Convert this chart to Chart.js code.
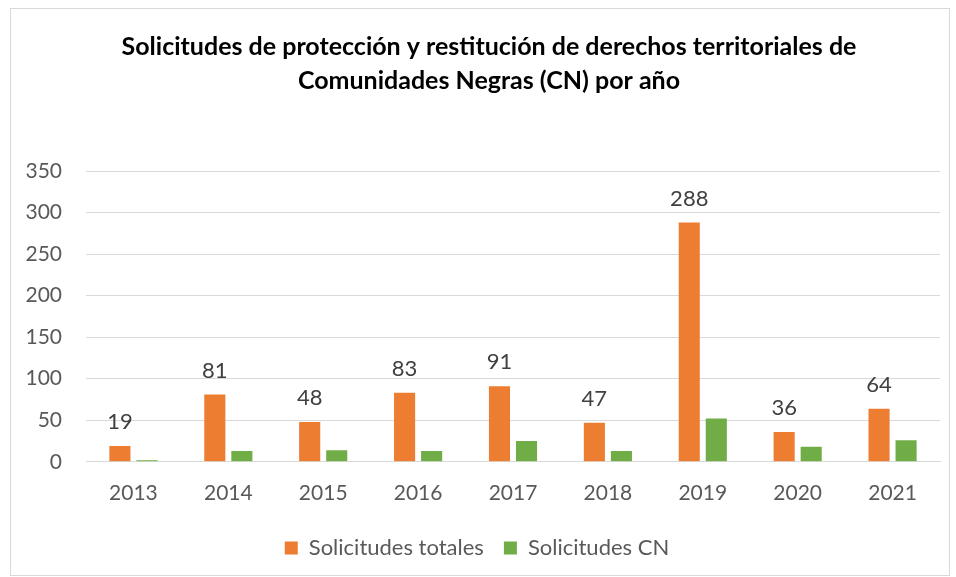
<!DOCTYPE html>
<html>
<head>
<meta charset="utf-8">
<script src="https://cdn.jsdelivr.net/npm/chart.js@4"></script>
<style>
  body { margin: 0; background: #fff; }
  #wrap { width: 956px; height: 577px; }
</style>
</head>
<body>
<div id="wrap"><canvas id="myChart" width="956" height="577"></canvas></div>
<script>
'use strict';

const years = ['2013', '2014', '2015', '2016', '2017', '2018', '2019', '2020', '2021'];
const totales = [19, 81, 48, 83, 91, 47, 288, 36, 64];
const cn = [2, 13, 14, 13, 25, 13, 52, 18, 26];
const seriesNames = ['Solicitudes totales', 'Solicitudes CN'];
const titleLines = [
  'Solicitudes de protección y restitución de derechos territoriales de',
  'Comunidades Negras (CN) por año',
];

const fontFamily = 'Lato, "Open Sans", sans-serif';

// white background + thin frame like the office chart
const frame = {
  id: 'frame',
  beforeDraw(chart) {
    const c = chart.ctx;
    c.save();
    c.fillStyle = '#fff';
    c.fillRect(0, 0, chart.width, chart.height);
    c.strokeStyle = '#d9d9d9';
    c.lineWidth = 1;
    c.strokeRect(10.5, 8.5, 939, 567);
    c.restore();
  },
};

// title drawn by hand so it can sit centred on the frame
const titleText = {
  id: 'titleText',
  afterDraw(chart) {
    const c = chart.ctx;
    c.save();
    c.font = 'bold 25px ' + fontFamily;
    c.fillStyle = '#000';
    c.textAlign = 'center';
    c.textBaseline = 'middle';
    titleLines.forEach((line, i) => {
      c.fillText(line, 489, 47 + i * 34);
    });
    c.restore();
  },
};

// value labels over the first series only
const barLabels = {
  id: 'barLabels',
  afterDatasetsDraw(chart) {
    const c = chart.ctx;
    const meta = chart.getDatasetMeta(0);
    c.save();
    c.font = '22px ' + fontFamily;
    c.fillStyle = '#404040';
    c.textAlign = 'center';
    c.textBaseline = 'alphabetic';
    meta.data.forEach((bar, i) => {
      c.fillText(String(totales[i]), bar.x, bar.y - 17);
    });
    c.restore();
  },
};

const ctx = document.getElementById('myChart');
new Chart(ctx, {
  type: 'bar',
  data: {
    labels: years,
    datasets: [
      {
        label: seriesNames[0],
        data: totales,
        backgroundColor: '#ED7D31',
        categoryPercentage: 0.57,
        barPercentage: 0.78,
      },
      {
        label: seriesNames[1],
        data: cn,
        backgroundColor: '#70AD47',
        categoryPercentage: 0.57,
        barPercentage: 0.78,
      },
    ],
  },
  options: {
    responsive: false,
    animation: false,
    layout: {
      padding: { top: 171, left: 14, right: 16, bottom: 8 },
    },
    plugins: {
      title: { display: false },
      legend: {
        position: 'bottom',
        labels: {
          color: '#595959',
          font: { family: fontFamily, size: 22 },
          boxWidth: 13,
          boxHeight: 13,
          padding: 20,
        },
      },
      tooltip: { enabled: false },
    },
    scales: {
      x: {
        grid: { display: false },
        border: { color: '#d9d9d9', width: 1 },
        ticks: {
          color: '#595959',
          font: { family: fontFamily, size: 21 },
          padding: 11,
        },
      },
      y: {
        min: 0,
        max: 350,
        afterFit(scale) {
          scale.width = 72;
        },
        grid: { color: '#d9d9d9', lineWidth: 1, drawTicks: false },
        border: { display: false },
        ticks: {
          stepSize: 50,
          color: '#595959',
          font: { family: fontFamily, size: 21 },
          padding: 24,
        },
      },
    },
  },
  plugins: [frame, titleText, barLabels],
});
</script>
</body>
</html>
